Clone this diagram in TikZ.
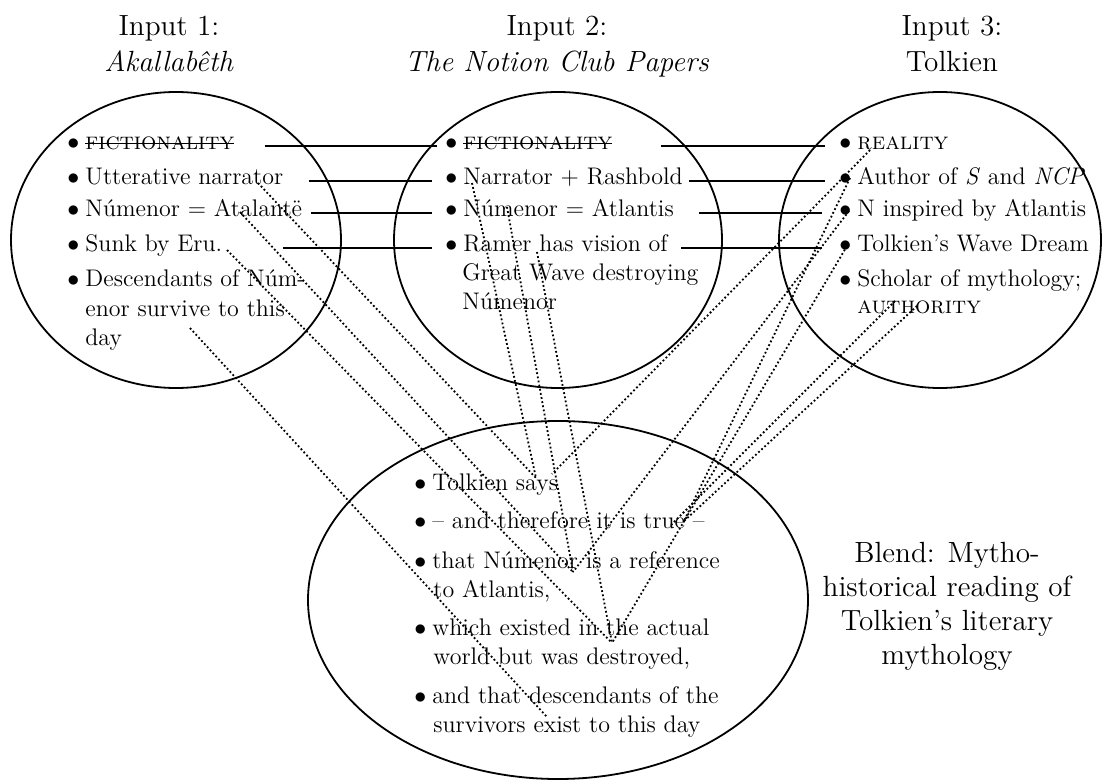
\documentclass[tikz,border=0pt]{standalone}
\usepackage{tikz}
\usetikzlibrary{shapes.geometric}

\newsavebox\strikebox
\newcommand{\crossout}[1]{\sbox\strikebox{#1}\rlap{\usebox\strikebox}\rule[0.55ex]{\wd\strikebox}{0.7pt}}
\newcommand{\blt}{\makebox[9pt][l]{$\bullet$}}

\begin{document}
\begin{tikzpicture}[x=0.5pt, y=-0.5pt,
    set/.style={ellipse, draw, line width=0.9pt, inner sep=0pt},
    head/.style={anchor=north, align=center, inner sep=0pt,
                 font=\fontsize{14.6}{18}\selectfont},
    item/.style={anchor=base west, inner sep=0pt, font=\fontsize{12}{15}\selectfont},
    crosslink/.style={line width=1pt},
    maplink/.style={line width=0.9pt, dash pattern=on 0.9pt off 1.2pt}
  ]
  \useasboundingbox (0,0) rectangle (1102,780);

  % the four mental spaces
  \node[set, minimum width=165pt, minimum height=148pt] (in1) at (176,240) {};
  \node[set, minimum width=164pt, minimum height=148pt] (in2) at (558,240) {};
  \node[set, minimum width=161pt, minimum height=148pt] (in3) at (940,240) {};
  \node[set, minimum width=250pt, minimum height=179pt] (blend) at (558,600) {};

  \node[head] (h1) at (169,15) {Input 1:\\\textit{Akallabêth}};
  \node[head] (h2) at (557,15) {Input 2:\\\textit{The Notion Club Papers}};
  \node[head] (h3) at (952,15) {Input 3:\\Tolkien};
  \node[head, font=\fontsize{14.6}{17}\selectfont] (lab) at (947,542)
       {Blend: Mytho-\\historical reading of\\Tolkien’s literary\\mythology};

  % input 1
  \node[item] (l1) at (67,150) {\blt\crossout{\textsc{fictionality}}};
  \node[item] (l2) at (67,185) {\blt Utterative narrator};
  \node[item] (l3) at (67,217) {\blt Númenor = Atalantë};
  \node[item] (l4) at (67,252) {\blt Sunk by Eru.};
  \node[item] (l5) at (67,287) {\blt Descendants of Núm-};
  \node[item] (l5b) at (85,317) {enor survive to this};
  \node[item] (l5c) at (85,346) {day};

  % input 2
  \node[item] (m1) at (445,150) {\blt\crossout{\textsc{fictionality}}};
  \node[item] (m2) at (445,185) {\blt Narrator + Rashbold};
  \node[item] (m3) at (445,217) {\blt Númenor = Atlantis};
  \node[item] (m4) at (445,252) {\blt Ramer has vision of};
  \node[item] (m4b) at (462,281) {Great Wave destroying};
  \node[item] (m4c) at (462,310) {Númenor};

  % input 3
  \node[item] (r1) at (839,150) {\blt\textsc{reality}};
  \node[item] (r2) at (839,185) {\blt Author of \textit{S} and \textit{NCP}};
  \node[item] (r3) at (839,217) {\blt N inspired by Atlantis};
  \node[item] (r4) at (839,252) {\blt Tolkien’s Wave Dream};
  \node[item] (r5) at (839,287) {\blt Scholar of mythology;};
  \node[item] (r5b) at (857,314) {\textsc{authority}};

  % blend
  \node[item] (b1) at (414,490) {\blt Tolkien says};
  \node[item] (b2) at (414,528) {\blt -- and therefore it is true --};
  \node[item] (b3) at (414,568) {\blt that Númenor is a reference};
  \node[item] (b3b) at (433,597) {to Atlantis,};
  \node[item] (b4) at (414,635) {\blt which existed in the actual};
  \node[item] (b4b) at (433,664) {world but was destroyed,};
  \node[item] (b5) at (414,703) {\blt and that descendants of the};
  \node[item] (b5b) at (433,732) {survivors exist to this day};

  % cross-space mappings
  \draw[crosslink, shorten <=15pt, shorten >=4pt] (l1.mid east) -- (m1.mid west);
  \draw[crosslink, shorten <=12.5pt, shorten >=6.5pt] (l2.mid east) -- (m2.mid west);
  \draw[crosslink, shorten <=4pt, shorten >=6.5pt] (l3.mid east) -- (m3.mid west);
  \draw[crosslink, shorten <=30pt, shorten >=6.5pt] (l4.mid east) -- (m4.mid west);
  \draw[crosslink, shorten <=24pt, shorten >=7pt] (m1.mid east) -- (r1.mid west);
  \draw[crosslink, shorten <=3pt, shorten >=7pt] (m2.mid east) -- (r2.mid west);
  \draw[crosslink, shorten <=12.5pt, shorten >=8.5pt] (m3.mid east) -- (r3.mid west);
  \draw[crosslink, shorten <=6.5pt, shorten >=8.5pt] (m4.mid east) -- (r4.mid west);

  % projections into the blend
  \coordinate (s-l2) at ([xshift=95.5pt,yshift=1pt]l2.base west);
  \coordinate (s-l3) at ([xshift=86.5pt,yshift=2.5pt]l3.base west);
  \coordinate (s-l4) at ([xshift=80pt,yshift=1pt]l4.base west);
  \coordinate (s-l5) at ([xshift=52.5pt,yshift=-5.5pt]l5b.base west);
  \coordinate (s-m2) at ([xshift=13.5pt,yshift=1pt]m2.base west);
  \coordinate (s-m3) at ([xshift=31pt,yshift=5pt]m3.base west);
  \coordinate (s-m4) at ([xshift=46pt]m4.base west);
  \coordinate (s-r1) at ([xshift=15.5pt]r1.base west);
  \coordinate (s-r2) at ([xshift=5.5pt,yshift=3.5pt]r2.base west);
  \coordinate (s-r3) at ([xshift=5pt,yshift=3pt]r3.base west);
  \coordinate (s-r4) at ([xshift=4pt,yshift=3pt]r4.base west);
  \coordinate (s-r5) at ([xshift=19pt,yshift=6.5pt]r5b.base west);
  \coordinate (s-r6) at ([xshift=30pt,yshift=4pt]r5b.base west);

  \coordinate (e-says) at ([xshift=61pt,yshift=6pt]b1.base west);
  \coordinate (e-says2) at ([xshift=69pt,yshift=8pt]b1.base west);
  \coordinate (e-true) at ([xshift=135pt,yshift=3.5pt]b2.base west);
  \coordinate (e-true2) at ([xshift=128.5pt,yshift=1.5pt]b2.base west);
  \coordinate (e-num) at ([xshift=79.5pt,yshift=-2pt]b3.base west);
  \coordinate (e-dest) at ([xshift=99pt,yshift=-4pt]b4.base west);
  \coordinate (e-desc) at ([xshift=66.5pt,yshift=-7pt]b5.base west);

  \draw[maplink] (s-l2) -- (e-says);
  \draw[maplink] (s-l3) -- (e-num);
  \draw[maplink] (s-l4) -- (e-dest);
  \draw[maplink] (s-l5) -- (e-desc);
  \draw[maplink] (s-m2) -- (e-says);
  \draw[maplink] (s-m3) -- (e-num);
  \draw[maplink] (s-m4) -- (e-dest);
  \draw[maplink] (s-r1) -- (e-says2);
  \draw[maplink] (s-r2) -- (e-true);
  \draw[maplink] (s-r3) -- (e-num);
  \draw[maplink] (s-r4) -- (e-dest);
  \draw[maplink] (s-r5) -- (e-true2);
  \draw[maplink] (s-r6) -- (e-true);
\end{tikzpicture}
\end{document}
